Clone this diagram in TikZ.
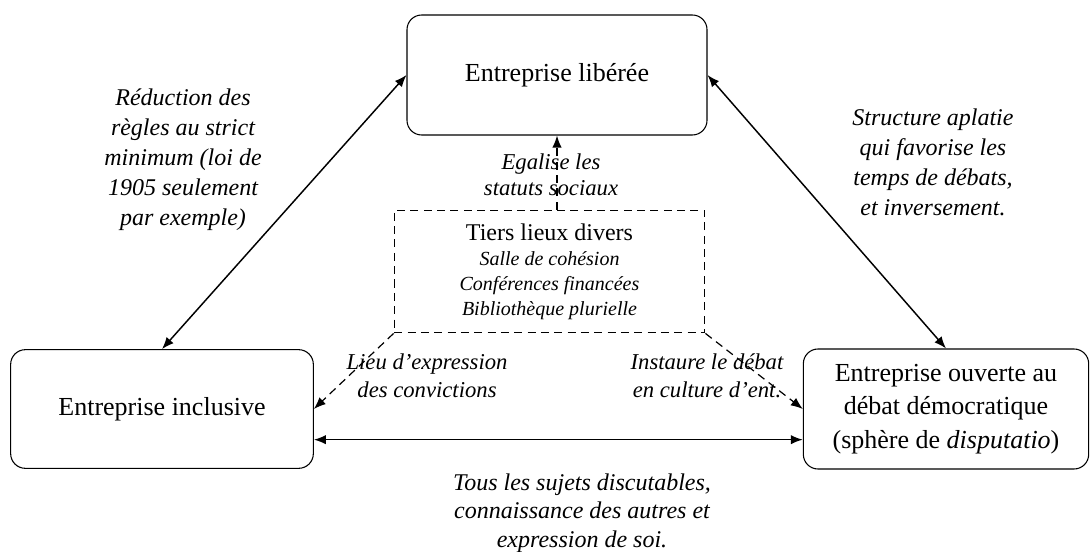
\documentclass[tikz,border=0pt]{standalone}
\usepackage{fontspec}
\setmainfont{Liberation Serif}
\usetikzlibrary{arrows.meta}

\begin{document}
\begin{tikzpicture}[x=0.75pt,y=0.75pt,yscale=-1,xscale=1,
    boite/.style={draw, rounded corners=11pt, line width=0.8pt, align=center, inner sep=0.75pt, font=\fontsize{19.5}{25}\selectfont},
    etiquette/.style={align=center, inner sep=0.75pt, font=\fontsize{18}{22.5}\selectfont\itshape},
    fleche/.style={line width=1.1pt, {Latex[length=9pt,width=7pt]}-{Latex[length=9pt,width=7pt]}},
    pointille/.style={line width=0.9pt, dash pattern=on 6pt off 4pt, -{Latex[length=9pt,width=7pt]}}]
        \useasboundingbox (0,0) rectangle (1091,552);

        % Boites principales
        \node[boite, minimum width=225pt, minimum height=90pt] (libre) at (557,75) {Entreprise libérée};
        \node[boite, minimum width=227pt, minimum height=89pt] (inclus) at (162,409) {Entreprise inclusive};
        \node[boite, minimum width=214pt, minimum height=90pt] (debat) at (946,409) {Entreprise ouverte au\\ débat démocratique\\ (sphère de \textit{disputatio})};

        % Tiers lieux
        \node[draw, line width=0.9pt, dash pattern=on 6pt off 4pt, minimum width=233pt, minimum height=92pt, align=center, inner sep=0.75pt, font=\fontsize{15}{18.75}\selectfont\itshape] (tiers) at (549.5,271.5)
            {{\upshape\fontsize{18}{18.75}\selectfont Tiers lieux divers}\\ Salle de cohésion\\ Conférences financées\\ Bibliothèque plurielle};

        % Fleches pleines
        \draw[fleche] (libre.west) -- (inclus.north);
        \draw[fleche] (libre.east) -- (debat.north);
        \draw[fleche] ([yshift=23pt]inclus.east) -- ([yshift=23pt]debat.west);

        % Fleches pointillees
        \draw[pointille] (tiers.north -| libre.south) -- (libre.south);
        \draw[pointille] (tiers.south west) -- (inclus.east);
        \draw[pointille] (tiers.south east) -- (debat.west);

        % Text Node
        \node[etiquette] (regles) at (183,160) {Réduction des\\ règles au strict\\ minimum (loi de\\ 1905 seulement\\ par exemple)};
        % Text Node
        \node[etiquette] (structure) at (933,162) {Structure aplatie\\ qui favorise les\\ temps de débats,\\ et inversement.};
        % Text Node
        \node[etiquette, font=\fontsize{17}{19.5}\selectfont\itshape] (statuts) at (551,175) {Egalise les\\ statuts sociaux};
        % Text Node
        \node[etiquette, font=\fontsize{17}{21}\selectfont\itshape] (convictions) at (427,376) {Lieu d'expression\\ des convictions};
        % Text Node
        \node[etiquette, font=\fontsize{17}{21}\selectfont\itshape] (culture) at (707,376) {Instaure le débat\\ en culture d'ent.};
        % Text Node
        \node[etiquette, font=\fontsize{18}{21.5}\selectfont\itshape] (sujets) at (582,513) {Tous les sujets discutables,\\ connaissance des autres et\\ expression de soi.};

\end{tikzpicture}
\end{document}
